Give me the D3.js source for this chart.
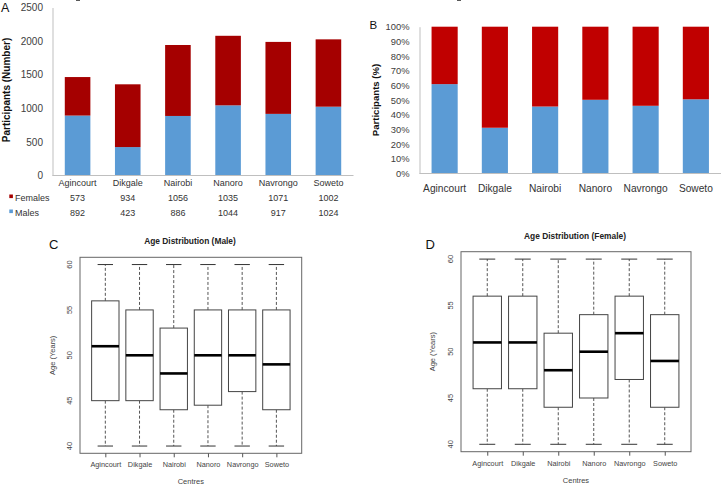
<!DOCTYPE html>
<html><head><meta charset="utf-8">
<script src="https://cdn.jsdelivr.net/npm/d3@7"></script>
<style>body{margin:0;background:#fff}svg{display:block}</style>
</head><body>
<svg id="c" width="722" height="488"></svg>
<script>
const categories = ["Agincourt","Dikgale","Nairobi","Nanoro","Navrongo","Soweto"];
const females = [573,934,1056,1035,1071,1002];
const males = [892,423,886,1044,917,1024];
const countTicks = [0,500,1000,1500,2000,2500];
const pctTicks = [0,0.1,0.2,0.3,0.4,0.5,0.6,0.7,0.8,0.9,1.0];
const ageTicks = [40,45,50,55,60];
const maleMin = [40,40,40,40,40,40];
const maleQ1  = [45,45,44,44.5,46,44];
const maleMed = [51,50,48,50,50,49];
const maleQ3  = [56,55,53,55,55,55];
const maleMax = [60,60,60,60,60,60];
const femaleMin = [40,40,40,40,40,40];
const femaleQ1  = [46,46,44,45,47,44];
const femaleMed = [51,51,48,50,52,49];
const femaleQ3  = [56,56,52,54,56,54];
const femaleMax = [60,60,60,60,60,60];

const svg = d3.select("#c");
svg.append("rect").attr("width",722).attr("height",488).attr("fill","#fff");
const rows = categories.map((c,i)=>({cat:c, Males:males[i], Females:females[i]}));
const keys = ["Males","Females"];
const AR = "Liberation Sans, Arial, sans-serif";

// ---------- Panel A ----------
{
  const g = svg.append("g");
  const x = d3.scaleBand().domain(categories).range([52.5,353.5]).paddingInner(0.49).paddingOuter(0.245);
  const y = d3.scaleLinear().domain([0,2500]).range([175.5,7.5]);
  const colA = {Males:"#5b9bd5", Females:"#a50000"};
  const st = d3.stack().keys(keys)(rows);
  g.selectAll("g.s").data(st).join("g").attr("fill",d=>colA[d.key])
    .selectAll("rect").data(d=>d).join("rect")
    .attr("x",d=>x(d.data.cat)).attr("width",x.bandwidth())
    .attr("y",d=>y(d[1])).attr("height",d=>y(d[0])-y(d[1]));
  const ax = g.append("g").attr("transform","translate(52.5,0)")
    .call(d3.axisLeft(y).tickValues(countTicks).tickFormat(d3.format("d")).tickSize(0).tickPadding(9.5));
  ax.select(".domain").attr("stroke","#bfbfbf");
  ax.selectAll("text").attr("font-family",AR).attr("font-size",10).attr("fill","#404040");
  g.append("line").attr("x1",52.5).attr("x2",353.5).attr("y1",175.5).attr("y2",175.5).attr("stroke","#bfbfbf");
  g.selectAll("text.cat").data(categories).join("text").attr("class","cat")
    .attr("x",d=>x(d)+x.bandwidth()/2).attr("y",186).attr("text-anchor","middle")
    .attr("font-family",AR).attr("font-size",9).attr("fill","#333").text(d=>d);
  const tab = [{k:"Females",vals:females,y:200.5},{k:"Males",vals:males,y:215.5}];
  tab.forEach(t=>{
    g.append("rect").attr("x",9.3).attr("y",t.y-6).attr("width",3.6).attr("height",3.6).attr("fill",colA[t.k]);
    g.append("text").attr("x",15).attr("y",t.y).attr("font-family",AR).attr("font-size",9).attr("fill","#333").text(t.k);
    g.selectAll(null).data(t.vals).join("text")
      .attr("x",(d,i)=>x(categories[i])+x.bandwidth()/2).attr("y",t.y).attr("text-anchor","middle")
      .attr("font-family",AR).attr("font-size",9).attr("fill","#333").text(d=>d);
  });
  g.append("text").attr("transform","translate(9.5,90) rotate(-90)").attr("text-anchor","middle")
    .attr("font-family",AR).attr("font-size",10).attr("font-weight","bold").attr("fill","#111").text("Participants (Number)");
  g.append("text").attr("x",1).attr("y",12).attr("font-family",AR).attr("font-size",12.5).attr("fill","#111").text("A");
}

// ---------- Panel B ----------
{
  const g = svg.append("g");
  const x = d3.scaleBand().domain(categories).range([419.5,721]).paddingInner(0.48).paddingOuter(0.24);
  const y = d3.scaleLinear().domain([0,1]).range([173.5,26.7]);
  const colB = {Males:"#5b9bd5", Females:"#c00000"};
  const st = d3.stack().keys(keys).offset(d3.stackOffsetExpand)(rows);
  g.selectAll("g.s").data(st).join("g").attr("fill",d=>colB[d.key])
    .selectAll("rect").data(d=>d).join("rect")
    .attr("x",d=>x(d.data.cat)).attr("width",x.bandwidth())
    .attr("y",d=>y(d[1])).attr("height",d=>y(d[0])-y(d[1]));
  const ax = g.append("g").attr("transform","translate(419.5,0)")
    .call(d3.axisLeft(y).tickValues(pctTicks).tickFormat(d3.format(".0%")).tickSize(0).tickPadding(10));
  ax.select(".domain").attr("stroke","#bfbfbf");
  ax.selectAll("text").attr("font-family",AR).attr("font-size",9.4).attr("fill","#404040");
  g.append("line").attr("x1",419.5).attr("x2",721).attr("y1",173.5).attr("y2",173.5).attr("stroke","#bfbfbf");
  g.selectAll("text.cat").data(categories).join("text").attr("class","cat")
    .attr("x",d=>x(d)+x.bandwidth()/2).attr("y",192).attr("text-anchor","middle")
    .attr("font-family",AR).attr("font-size",10.2).attr("fill","#333").text(d=>d);
  g.append("text").attr("transform","translate(379,100) rotate(-90)").attr("text-anchor","middle")
    .attr("font-family",AR).attr("font-size",9.6).attr("font-weight","bold").attr("fill","#111").text("Participants (%)");
  g.append("text").attr("x",369.5).attr("y",29).attr("font-family",AR).attr("font-size",11.5).attr("fill","#111").text("B");
}

// ---------- Boxplots ----------
function boxPanel(o){
  const g = svg.append("g");
  const x = d3.scalePoint().domain(categories).range([o.left,o.right]).padding(0.74);
  const y = d3.scaleLinear().domain([39.2,60.8]).range([o.bottom,o.top]);
  const unit = x.step();
  const bw = unit*0.8, cw = unit*0.45;
  const data = categories.map((c,i)=>({c,min:o.min[i],q1:o.q1[i],med:o.med[i],q3:o.q3[i],max:o.max[i]}));
  const b = g.selectAll("g.b").data(data).join("g");
  b.append("line").attr("x1",d=>x(d.c)).attr("x2",d=>x(d.c)).attr("y1",d=>y(d.q3)).attr("y2",d=>y(d.max))
    .attr("stroke","#555").attr("stroke-dasharray","3,2");
  b.append("line").attr("x1",d=>x(d.c)).attr("x2",d=>x(d.c)).attr("y1",d=>y(d.q1)).attr("y2",d=>y(d.min))
    .attr("stroke","#555").attr("stroke-dasharray","3,2");
  ["min","max"].forEach(k=>{
    b.append("line").attr("x1",d=>x(d.c)-cw/2).attr("x2",d=>x(d.c)+cw/2).attr("y1",d=>y(d[k])).attr("y2",d=>y(d[k]))
      .attr("stroke","#333").attr("stroke-width",1);
  });
  b.append("rect").attr("x",d=>x(d.c)-bw/2).attr("width",bw).attr("y",d=>y(d.q3)).attr("height",d=>y(d.q1)-y(d.q3))
    .attr("fill","#fff").attr("stroke","#444").attr("stroke-width",1);
  b.append("line").attr("x1",d=>x(d.c)-bw/2).attr("x2",d=>x(d.c)+bw/2).attr("y1",d=>y(d.med)).attr("y2",d=>y(d.med))
    .attr("stroke","#000").attr("stroke-width",2.6);
  g.append("rect").attr("x",o.left).attr("y",o.top).attr("width",o.right-o.left).attr("height",o.bottom-o.top)
    .attr("fill","none").attr("stroke","#666").attr("stroke-width",1);
  const ya = g.append("g").attr("transform",`translate(${o.left},0)`)
    .call(d3.axisLeft(y).tickValues(ageTicks).tickSize(4).tickPadding(2));
  ya.select(".domain").remove();
  ya.selectAll("line").attr("stroke","#555");
  ya.selectAll("text").attr("font-family",AR).attr("font-size",7.5).attr("fill","#444")
    .attr("transform",function(d){return `rotate(-90,${-11},${y(d)})`;})
    .attr("x",-11).attr("y",d=>y(d)).attr("dy","0.35em").attr("text-anchor","middle")
    .each(function(){d3.select(this.parentNode).attr("transform",`translate(0,0)`);});
  const xa = g.append("g").attr("transform",`translate(0,${o.bottom})`)
    .call(d3.axisBottom(x).tickSize(4).tickPadding(5));
  xa.select(".domain").remove();
  xa.selectAll("line").attr("stroke","#555");
  xa.selectAll("text").attr("font-family",AR).attr("font-size",7.3).attr("fill","#444");
  g.append("text").attr("x",(o.left+o.right)/2).attr("y",o.bottom+31).attr("text-anchor","middle")
    .attr("font-family",AR).attr("font-size",7.5).attr("fill","#444").text("Centres");
  g.append("text").attr("transform",`translate(${o.ylabX},${(o.top+o.bottom)/2}) rotate(-90)`).attr("text-anchor","middle")
    .attr("font-family",AR).attr("font-size",7.5).attr("fill","#444").text("Age (Years)");
  g.append("text").attr("x",o.titleX).attr("y",o.titleY).attr("text-anchor","middle")
    .attr("font-family",AR).attr("font-size",8.4).attr("font-weight","bold").attr("fill","#222").text(o.title);
  g.append("text").attr("x",o.lx).attr("y",o.ly).attr("font-family",AR).attr("font-size",13).attr("fill","#111").text(o.letter);
}
boxPanel({left:80,right:301.7,top:257.3,bottom:453.3,min:maleMin,q1:maleQ1,med:maleMed,q3:maleQ3,max:maleMax,
  ylabX:54.5,title:"Age Distribution (Male)",titleX:190,titleY:244,letter:"C",lx:49,ly:249});
boxPanel({left:461,right:691,top:251.7,bottom:451.7,min:femaleMin,q1:femaleQ1,med:femaleMed,q3:femaleQ3,max:femaleMax,
  ylabX:434.5,title:"Age Distribution (Female)",titleX:575,titleY:238.5,letter:"D",lx:425.5,ly:249});
</script>
</body></html>
